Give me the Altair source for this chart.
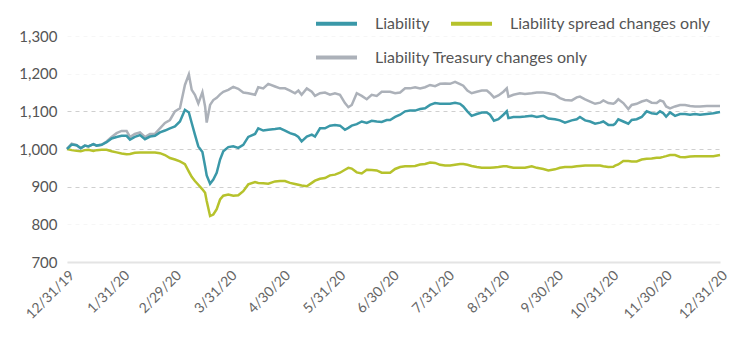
import altair as alt
import pandas as pd

# x positions, as days after 12/31/19
day_offsets = [
    0, 2.6, 5.4, 7.7, 10, 12, 14.8, 16.6, 19.4, 22.2, 25, 27.8, 30.6, 33.4, 35.3, 38, 40.9, 43.7, 46.5, 49.3, 52.1, 54.9,
    57.7, 60.5, 63.3, 66.1, 68.3, 69.9, 71.7, 73.6, 75.9, 77.4, 78.3, 80.2, 82.0, 83.9, 85.8, 87.6, 90.4, 93.2, 96.0, 98.8, 101.6, 105.4, 107.2, 110.0, 112.8, 116.6, 119.4,
    122.2, 125, 127.8, 129.7, 131.5, 134.4, 137.2, 139, 141.8, 144.6, 147.4, 150.2, 153, 155.8, 157.7, 159.6, 162.4, 165.2, 168, 170.8, 173.6, 176.4, 179.2,
    181.1, 183.9, 186.7, 189.5, 192.3, 195.1, 197.9, 200.7, 203.5, 206.3, 209.1, 211.9, 214.7, 217.5, 220.3, 222.1, 224.4, 226.8, 229.7, 232.5, 235.3, 237.1, 239.3, 241.8, 244.6,
    246.5, 247.4, 250.2, 253.9, 256.7, 260.5, 263.3, 267, 269.8, 273.5, 276.3, 279.1, 282.9, 285.7, 287.5, 290.4, 293.2, 296, 298.8, 300.6, 303.4, 306.2,
    307.2, 309, 311.8, 314.6, 316.5, 319.3, 322.1, 324.9, 327.7, 330.5, 332.4, 334.2, 335.8, 338, 340.8, 343.6, 346.4, 349.2, 352, 354.8, 358.6, 362.3, 366,
]

liability = [
    1000, 1012, 1010, 1002, 1009, 1007, 1013, 1009, 1011, 1018, 1028, 1032, 1035, 1035, 1025, 1032, 1037, 1026, 1033, 1035, 1044, 1049,
    1055, 1060, 1073, 1104, 1097, 1069, 1038, 1007, 992, 954, 930, 908, 919, 937, 972, 994, 1005, 1007, 1003, 1011, 1032, 1040, 1055, 1049, 1051, 1053, 1055,
    1049, 1042, 1038, 1032, 1020, 1033, 1038, 1033, 1055, 1055, 1062, 1064, 1062, 1051, 1056, 1062, 1066, 1073, 1069, 1075, 1073, 1072, 1077,
    1077, 1085, 1091, 1100, 1102, 1102, 1106, 1108, 1117, 1122, 1120, 1120, 1120, 1123, 1120, 1113, 1100, 1088, 1093, 1097, 1097, 1091, 1075, 1079, 1091,
    1100, 1082, 1085, 1085, 1086, 1088, 1085, 1088, 1081, 1079, 1076, 1070, 1076, 1079, 1085, 1076, 1073, 1067, 1070, 1073, 1064, 1064,
    1067, 1079, 1073, 1067, 1077, 1079, 1085, 1100, 1095, 1093, 1100, 1095, 1086, 1097, 1088, 1093, 1093, 1091, 1093, 1091, 1093, 1095, 1098,
]

treasury_only = [
    1000, 1014, 1010, 1002, 1009, 1007, 1013, 1009, 1011, 1020, 1032, 1042, 1048, 1048, 1032, 1040, 1044, 1032, 1040, 1040, 1055, 1069,
    1077, 1100, 1108, 1170, 1198, 1157, 1144, 1121, 1151, 1113, 1070, 1117, 1130, 1136, 1145, 1152, 1157, 1165, 1160, 1150, 1148, 1144, 1164, 1161, 1173, 1166, 1161,
    1161, 1155, 1148, 1155, 1144, 1161, 1152, 1141, 1148, 1150, 1144, 1148, 1144, 1122, 1111, 1117, 1148, 1141, 1132, 1144, 1141, 1152, 1152,
    1152, 1148, 1150, 1161, 1161, 1164, 1161, 1164, 1170, 1167, 1173, 1174, 1173, 1178, 1172, 1168, 1155, 1148, 1152, 1155, 1155, 1148, 1137, 1142, 1152,
    1161, 1139, 1144, 1148, 1146, 1148, 1150, 1150, 1148, 1144, 1135, 1130, 1129, 1137, 1139, 1132, 1126, 1120, 1123, 1129, 1122, 1120,
    1123, 1132, 1122, 1106, 1117, 1120, 1126, 1130, 1123, 1122, 1129, 1126, 1113, 1108, 1113, 1117, 1117, 1114, 1113, 1113, 1114, 1114, 1114,
]

spread_only = [
    1000, 997, 995, 994, 997, 998, 995, 997, 998, 998, 994, 991, 988, 986, 987, 990, 991, 991, 991, 991, 989, 984,
    976, 972, 967, 960, 940, 926, 915, 905, 893, 884, 862, 822, 826, 840, 866, 876, 879, 876, 877, 888, 906, 912, 910, 909, 908, 914, 915,
    915, 910, 907, 905, 903, 901, 910, 916, 921, 923, 930, 932, 937, 945, 950, 948, 938, 935, 945, 944, 943, 937, 937,
    937, 947, 952, 954, 954, 955, 959, 960, 964, 963, 958, 956, 956, 958, 960, 960, 958, 955, 952, 950, 950, 950, 951, 952, 954,
    954, 953, 950, 950, 950, 954, 950, 947, 943, 946, 950, 952, 952, 954, 955, 956, 956, 956, 956, 954, 952, 953,
    956, 959, 968, 968, 967, 967, 972, 974, 975, 977, 977, 979, 981, 984, 984, 979, 978, 980, 981, 981, 981, 981, 984,
]

series_names = ["Liability", "Liability spread changes only", "Liability Treasury changes only"]
series_colors = ["#3a98a8", "#b6c22c", "#acb1b9"]
y_ticks = [700, 800, 900, 1000, 1100, 1200, 1300]
tick_dates = [(2019, 12, 31), (2020, 1, 31), (2020, 2, 29), (2020, 3, 31), (2020, 4, 30),
              (2020, 5, 31), (2020, 6, 30), (2020, 7, 31), (2020, 8, 31), (2020, 9, 30),
              (2020, 10, 31), (2020, 11, 30), (2020, 12, 31)]

start = pd.Timestamp("2019-12-31")
dates = [start + pd.Timedelta(days=d) for d in day_offsets]

rows = []
for name, vals in zip(series_names, [liability, spread_only, treasury_only]):
    for d, v in zip(dates, vals):
        rows.append({"date": d, "value": v, "series": name})
df = pd.DataFrame(rows)

legend_common = dict(
    title=None,
    orient="none",
    direction="horizontal",
    symbolType="stroke",
    symbolSize=1681,
    symbolStrokeWidth=4,
    labelFontSize=16,
    labelColor="#555555",
    labelOffset=16,
    labelLimit=400,
    columnPadding=13,
)

x = alt.X(
    "date:T",
    scale=alt.Scale(domain=[alt.DateTime(year=2019, month=12, date=31), alt.DateTime(year=2020, month=12, date=31)]),
    axis=alt.Axis(
        title=None,
        values=[alt.DateTime(year=y, month=m, date=d) for (y, m, d) in tick_dates],
        format="%-m/%-d/%y",
        labelAngle=-45,
        labelFontSize=14,
        labelColor="#666666",
        labelPadding=6,
        ticks=False,
        grid=False,
        domainColor="#e4e4e4",
        domainWidth=2,
    ),
)

y = alt.Y(
    "value:Q",
    scale=alt.Scale(domain=[700, 1300], nice=False, zero=False),
    axis=alt.Axis(
        title=None,
        values=y_ticks,
        format=",.0f",
        labelFontSize=15,
        labelColor="#555555",
        labelPadding=10,
        ticks=False,
        domain=False,
        grid=True,
        gridDash=[4, 4],
        gridColor=alt.condition("datum.value >= 900 && datum.value <= 1100",
                                alt.value("#cfcfcf"), alt.value("#f6f6f6")),
    ),
)

# Treasury line: its own stroke channel -> its own legend row
treasury_layer = alt.Chart(df).transform_filter(
    alt.datum.series == series_names[2]
).mark_line(strokeWidth=2.5).encode(
    x=x, y=y,
    stroke=alt.Stroke(
        "series:N",
        scale=alt.Scale(domain=[series_names[2]], range=[series_colors[2]]),
        legend=alt.Legend(legendX=247, legendY=-1, **legend_common),
    ),
)

main_color = alt.Color(
    "series:N",
    scale=alt.Scale(domain=series_names[:2], range=series_colors[:2]),
    legend=alt.Legend(legendX=247, legendY=-35, **legend_common),
)

spread_layer = alt.Chart(df).transform_filter(
    alt.datum.series == series_names[1]
).mark_line(strokeWidth=2.5).encode(x=x, y=y, color=main_color)

liability_layer = alt.Chart(df).transform_filter(
    alt.datum.series == series_names[0]
).mark_line(strokeWidth=2.5).encode(x=x, y=y, color=main_color)

chart = alt.layer(
    treasury_layer, spread_layer, liability_layer,
).properties(
    width=653,
    height=226,
    autosize=alt.AutoSizeParams(type="none"),
    padding={"left": 67, "top": 36, "right": 19, "bottom": 79},
).configure(
    font="Lato",
    background="white",
).configure_view(stroke=None)

chart.save("out.html", embed_options={"renderer": "svg", "actions": False})
